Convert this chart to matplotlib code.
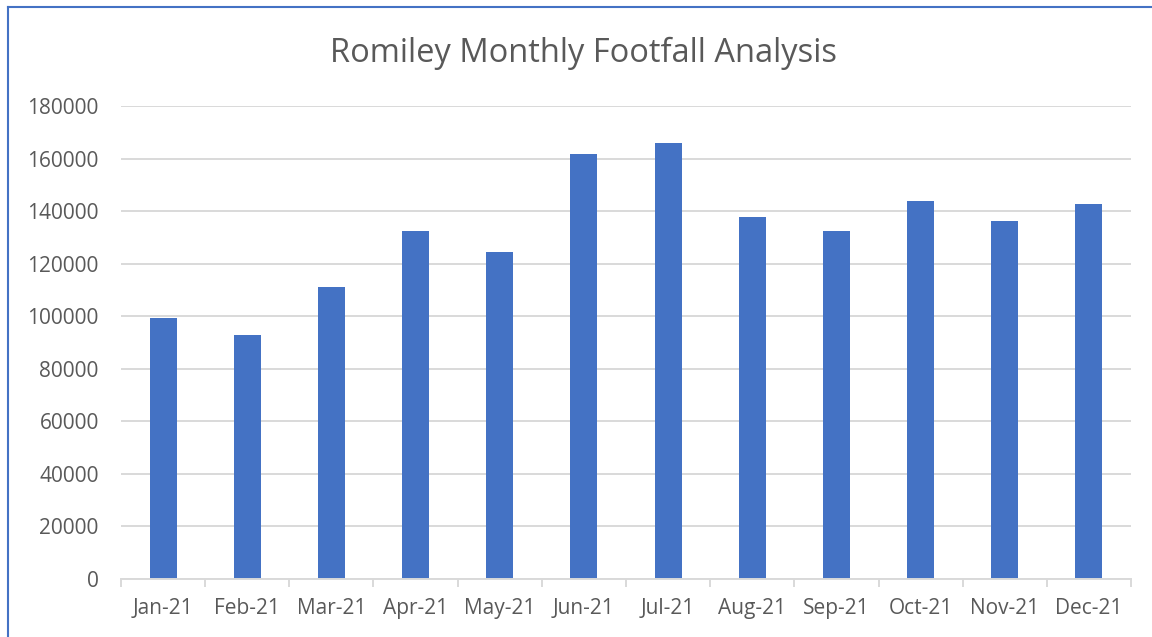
import matplotlib.pyplot as plt
from matplotlib.lines import Line2D
import numpy as np

months = ["Jan-21", "Feb-21", "Mar-21", "Apr-21", "May-21", "Jun-21",
          "Jul-21", "Aug-21", "Sep-21", "Oct-21", "Nov-21", "Dec-21"]
footfall = [99500, 92800, 111000, 132400, 124300, 161800,
            165900, 137700, 132600, 143900, 136300, 142800]
yticks = [0, 20000, 40000, 60000, 80000, 100000, 120000, 140000, 160000, 180000]

plt.rcParams['font.family'] = ['Open Sans', 'DejaVu Sans']
text_col = "#595959"
grid_col = "#D9D9D9"
bar_col = "#4472C4"

fig = plt.figure(figsize=(11.52, 6.37), dpi=100)
ax = fig.add_axes([121 / 1152, 1 - 579 / 637, (1131 - 121) / 1152, (579 - 106) / 637])

x = np.arange(len(months))
ax.bar(x, footfall, width=0.32, color=bar_col, zorder=3)

ax.set_xlim(-0.5, len(months) - 0.5)
ax.set_ylim(0, 180000)
ax.set_yticks(yticks)
ax.set_yticklabels([str(v) for v in yticks])
ax.set_xticks(x)
ax.set_xticklabels(months)
ax.set_xticks(np.arange(-0.5, len(months), 1.0), minor=True)

ax.grid(axis="y", color=grid_col, linewidth=1.4, zorder=0)
for s in ["top", "right", "left"]:
    ax.spines[s].set_visible(False)
ax.spines["bottom"].set_color(grid_col)
ax.spines["bottom"].set_linewidth(1.4)
ax.spines["bottom"].set_zorder(4)

ax.tick_params(axis="y", length=0, pad=16, labelsize=15, labelcolor=text_col)
ax.tick_params(axis="x", which="major", length=0, pad=14, labelsize=15, labelcolor=text_col)
ax.tick_params(axis="x", which="minor", length=6, width=1.4, color=grid_col)

fig.text(584 / 1152, 1 - 53 / 637, "Romiley Monthly Footfall Analysis",
         ha="center", va="center", fontsize=23.5, color=text_col)

# chart border (top and left edges visible)
fig.add_artist(Line2D([8 / 1152, 8 / 1152], [0, 1 - 7 / 637], color=bar_col, linewidth=1.5))
fig.add_artist(Line2D([8 / 1152, 1], [1 - 7 / 637, 1 - 7 / 637], color=bar_col, linewidth=1.5))

fig.savefig("out.png", dpi=100)
